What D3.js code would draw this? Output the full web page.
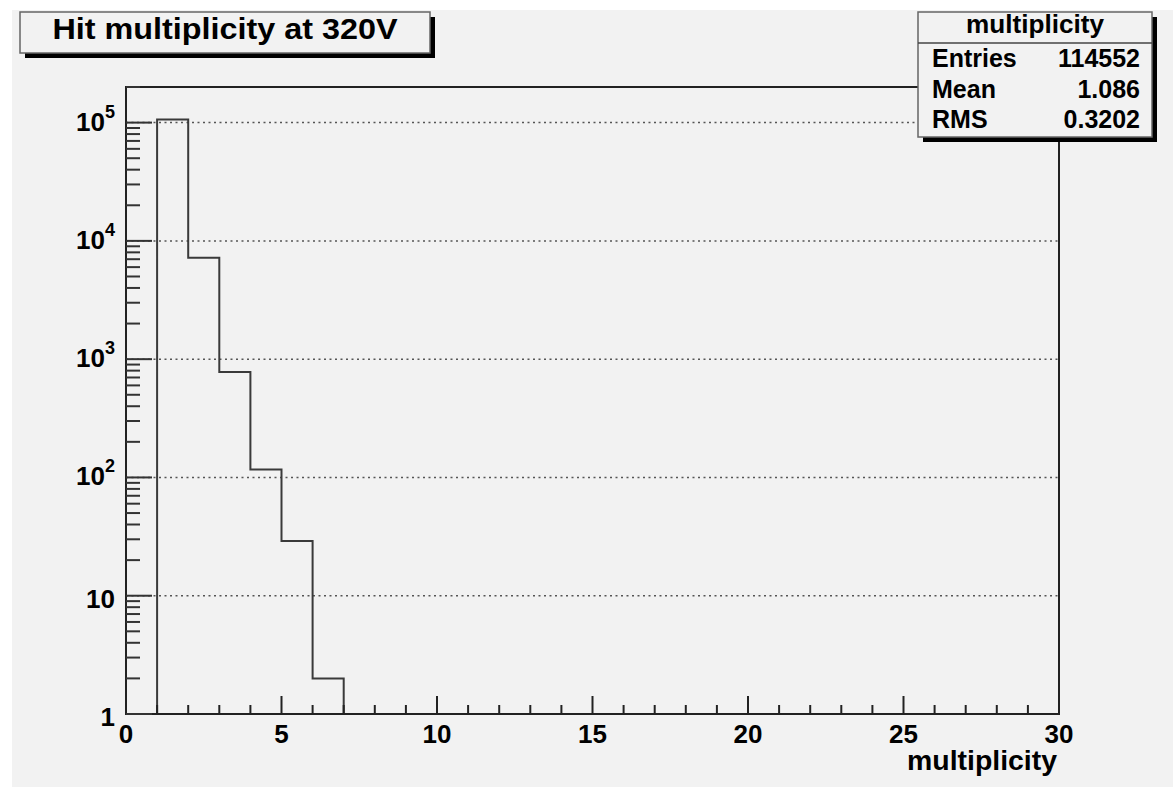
<!DOCTYPE html>
<html>
<head>
<meta charset="utf-8">
<script src="https://cdn.jsdelivr.net/npm/d3@7"></script>
<style>
  html, body { margin: 0; padding: 0; background: #ffffff; }
  svg text { font-family: "Liberation Sans", Arial, Helvetica, sans-serif; font-weight: bold; fill: #000; }
</style>
</head>
<body>
<div id="chart"></div>
<script>
// histogram contents (bin low edge -> entries)
const binLow = [1, 2, 3, 4, 5, 6];
const binCounts = [106400, 7200, 780, 117, 29, 2];
const binWidth = 1;
const xTicks = [0, 5, 10, 15, 20, 25, 30];
const yDecades = [1, 10, 100, 1000, 10000, 100000];
const yLabels = ["1", "10", "10|2", "10|3", "10|4", "10|5"];
const statNames = ["Entries", "Mean", "RMS"];
const statValues = ["114552", "1.086", "0.3202"];
const titleText = "Hit multiplicity at 320V";
const statsTitle = "multiplicity";
const xTitle = "multiplicity";

const W = 1176, H = 787;
const frame = {left: 126, right: 1059, top: 87, bottom: 714};

let svg = d3.select("#chart").append("svg")
    .attr("width", W)
    .attr("height", H);

// canvas
svg.append("rect")
    .attr("x", 12).attr("y", 10)
    .attr("width", 1161).attr("height", H - 10)
    .attr("fill", "#f2f2f2");

let x = d3.scaleLinear().domain([0, 30]).range([frame.left, frame.right]);
let y = d3.scaleLog().domain([1, 2.0e5]).range([frame.bottom, frame.top]);

// horizontal dotted grid
svg.append("g").selectAll("line")
    .data(yDecades.slice(1))
    .enter().append("line")
    .attr("x1", frame.left).attr("x2", frame.right)
    .attr("y1", d => y(d)).attr("y2", d => y(d))
    .attr("stroke", "#555")
    .attr("stroke-width", 1.5)
    .attr("stroke-dasharray", "2,3.5");

// histogram step line
let pts = [[x(binLow[0]), y(1)]];
binLow.forEach((b, i) => {
    pts.push([x(b), y(binCounts[i])]);
    pts.push([x(b + binWidth), y(binCounts[i])]);
});
pts.push([x(binLow[binLow.length - 1] + binWidth), y(1)]);
svg.append("path")
    .attr("d", d3.line()(pts))
    .attr("fill", "none")
    .attr("stroke", "#3a3a3a")
    .attr("stroke-width", 2);

// frame
svg.append("rect")
    .attr("x", frame.left).attr("y", frame.top)
    .attr("width", frame.right - frame.left)
    .attr("height", frame.bottom - frame.top)
    .attr("fill", "none")
    .attr("stroke", "#222")
    .attr("stroke-width", 2);

// x axis ticks
let xMinor = d3.range(0, 31, 1);
svg.append("g").selectAll("line")
    .data(xMinor)
    .enter().append("line")
    .attr("x1", d => x(d)).attr("x2", d => x(d))
    .attr("y1", frame.bottom)
    .attr("y2", d => frame.bottom - (d % 5 === 0 ? 18 : 9))
    .attr("stroke", "#222")
    .attr("stroke-width", 2);
svg.append("g").selectAll("text")
    .data(xTicks)
    .enter().append("text")
    .attr("x", d => x(d))
    .attr("y", 743)
    .attr("text-anchor", "middle")
    .attr("font-size", 26)
    .text(d => d);
svg.append("text")
    .attr("x", 1057).attr("y", 770)
    .attr("text-anchor", "end")
    .attr("font-size", 27)
    .attr("textLength", 150)
    .attr("lengthAdjust", "spacingAndGlyphs")
    .text(xTitle);

// y axis ticks (log)
let yMinor = [];
yDecades.forEach(dec => {
    for (let k = 1; k <= 9; k++) {
        let v = dec * k;
        if (v <= y.domain()[1]) yMinor.push(v);
    }
});
svg.append("g").selectAll("line")
    .data(yMinor)
    .enter().append("line")
    .attr("x1", frame.left)
    .attr("x2", d => frame.left + (yDecades.includes(d) ? 26 : 14))
    .attr("y1", d => y(d)).attr("y2", d => y(d))
    .attr("stroke", "#333")
    .attr("stroke-width", 2);
let yl = svg.append("g").selectAll("text")
    .data(yDecades)
    .enter().append("text")
    .attr("x", 115)
    .attr("y", (d, i) => y(d) + (i < 2 ? 12 : 8))
    .attr("text-anchor", "end")
    .attr("font-size", 26);
yl.each(function(d, i) {
    let parts = yLabels[i].split("|");
    let t = d3.select(this);
    t.append("tspan").text(parts[0]);
    if (parts[1]) {
        t.append("tspan")
            .attr("dy", -13)
            .attr("font-size", 18)
            .text(parts[1]);
    }
});

// title box
function shadowBox(x0, y0, w, h) {
    svg.append("rect")
        .attr("x", x0 + 5).attr("y", y0 + 5)
        .attr("width", w).attr("height", h)
        .attr("fill", "#000");
    svg.append("rect")
        .attr("x", x0).attr("y", y0)
        .attr("width", w).attr("height", h)
        .attr("fill", "#f2f2f2")
        .attr("stroke", "#666")
        .attr("stroke-width", 1.5);
}
shadowBox(20, 12, 410, 41);
svg.append("text")
    .attr("x", 225).attr("y", 39)
    .attr("text-anchor", "middle")
    .attr("font-size", 30)
    .attr("textLength", 345)
    .attr("lengthAdjust", "spacingAndGlyphs")
    .text(titleText);

// stats box
shadowBox(918, 12, 234, 125);
svg.append("line")
    .attr("x1", 918).attr("x2", 1152)
    .attr("y1", 43).attr("y2", 43)
    .attr("stroke", "#444")
    .attr("stroke-width", 1.5);
svg.append("text")
    .attr("x", 1035).attr("y", 33)
    .attr("text-anchor", "middle")
    .attr("font-size", 26)
    .attr("textLength", 138)
    .attr("lengthAdjust", "spacingAndGlyphs")
    .text(statsTitle);
let rowY = [67, 98, 128];
statNames.forEach((n, i) => {
    svg.append("text")
        .attr("x", 932).attr("y", rowY[i])
        .attr("font-size", 25)
        .text(n);
    svg.append("text")
        .attr("x", 1140).attr("y", rowY[i])
        .attr("text-anchor", "end")
        .attr("font-size", 25)
        .text(statValues[i]);
});
</script>
</body>
</html>
